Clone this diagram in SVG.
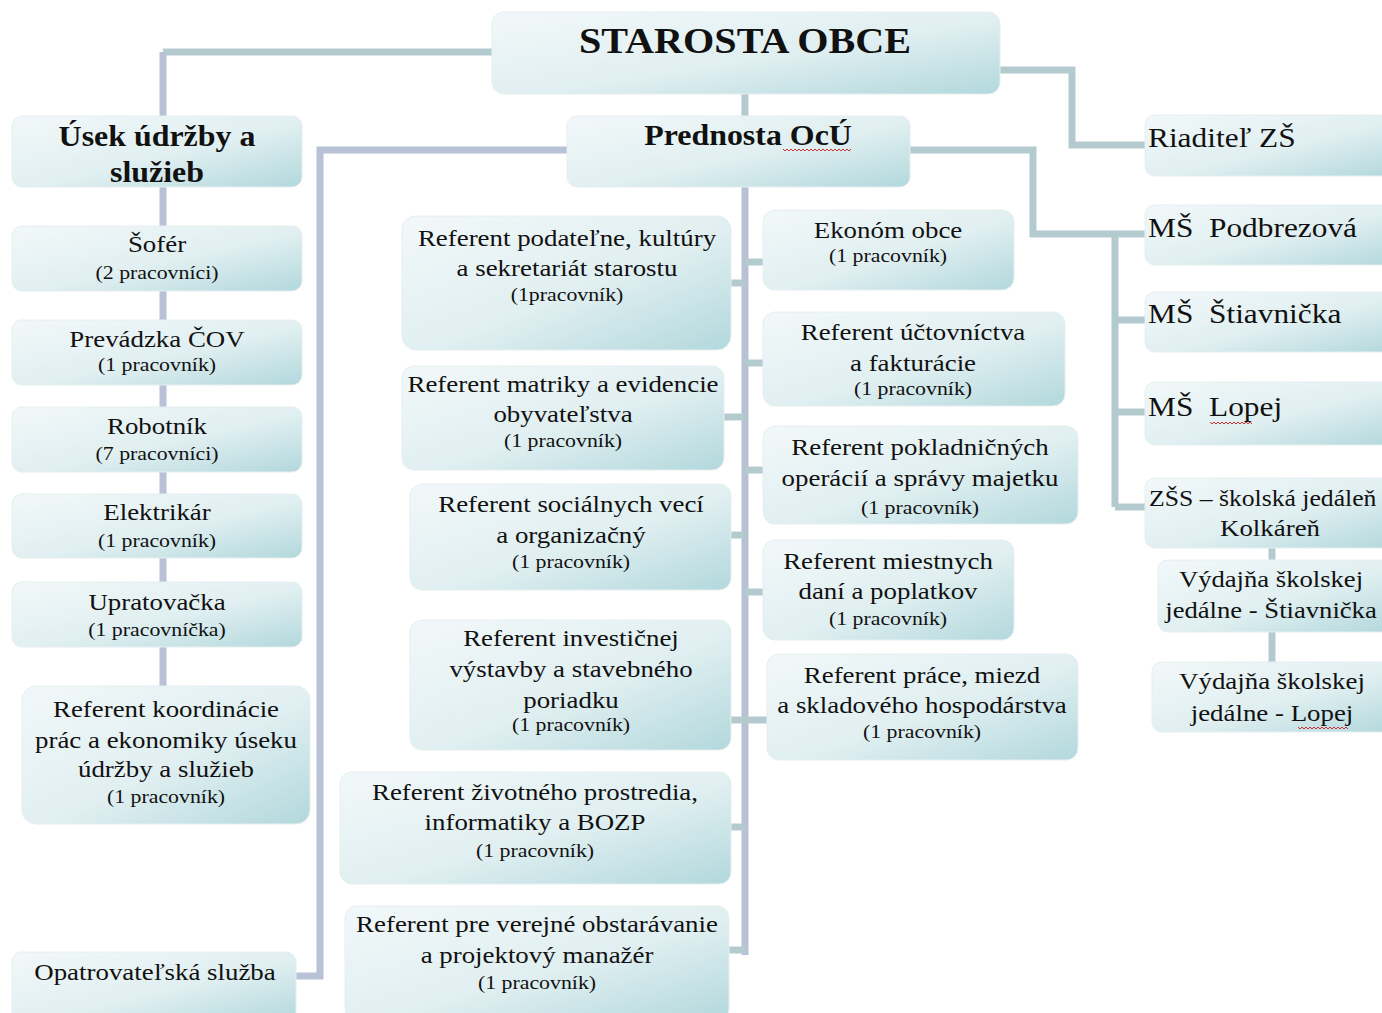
<svg xmlns="http://www.w3.org/2000/svg" width="1382" height="1013" viewBox="0 0 1382 1013">
<defs>
<linearGradient id="g" x1="0" y1="0" x2="1" y2="1">
<stop offset="0" stop-color="#f2f8f9"/>
<stop offset="0.55" stop-color="#e0eff1"/>
<stop offset="1" stop-color="#b2d8dc"/>
</linearGradient>
<style>
.box{fill:url(#g);stroke:#e6eef0;stroke-width:1}
.t{font-family:"Liberation Serif","Times New Roman",serif;fill:#111;text-anchor:middle}
.b{font-weight:bold}
.xl{font-size:36.5px}
.lg{font-size:28.5px}
.rl{font-size:28px}
.md{font-size:24px}
.sm{font-size:19.5px}
.l{text-anchor:start}
.cb{fill:none;stroke:#b9c1d6;stroke-width:7}
.ct{fill:none;stroke:#b3cbcf;stroke-width:7}
.sq{fill:none;stroke:#d03030;stroke-width:1}
</style>
</defs>
<rect width="1382" height="1013" fill="#ffffff"/>
<g id="connectors">
<path class="ct" d="M163 52 H492"/>
<path class="cb" d="M163 52 V690"/>
<path class="ct" d="M745 92 V118"/>
<path class="ct" d="M1000 70 H1072 V145 H1148"/>
<path class="ct" d="M908 150 H1033 V234 H1148"/>
<path class="ct" d="M1115 234 V507"/>
<path class="ct" d="M1115 320 H1148 M1115 412 H1148 M1115 507 H1148"/>
<path class="ct" d="M1272 546 V562 M1272 630 V664"/>
<path class="cb" d="M569 150 H320 V976 H296"/>
<path class="cb" d="M745 186 V955"/>
<path class="ct" d="M729 283 H745 M722 417 H745 M729 535 H745 M729 720 H745 M729 827 H745 M729 950 H745"/>
<path class="ct" d="M745 262 H765 M745 363 H765 M745 470 H765 M745 592 H765 M745 720 H769"/>
</g>
<g id="starosta"><rect class="box" x="492" y="12" width="508" height="82" rx="12"/><g transform="translate(745 0) scale(1.1 1)"><text class="t b xl" x="0" y="53">STAROSTA OBCE</text></g></g>
<g id="prednosta"><rect class="box" x="567" y="116" width="343" height="71" rx="10"/><g transform="translate(748 0) scale(1.12 1)"><text class="t b lg" x="0" y="145">Prednosta OcÚ</text></g><path class="sq" d="M783 149 l2 2 l2 -2 l2 2 l2 -2 l2 2 l2 -2 l2 2 l2 -2 l2 2 l2 -2 l2 2 l2 -2 l2 2 l2 -2 l2 2 l2 -2 l2 2 l2 -2 l2 2 l2 -2 l2 2 l2 -2 l2 2 l2 -2 l2 2 l2 -2 l2 2 l2 -2 l2 2 l2 -2 l2 2 l2 -2 l2 2 l2 -2"/></g>
<g id="usek"><rect class="box" x="12" y="116" width="290" height="71" rx="10"/><g transform="translate(157 0) scale(1.12 1)"><text class="t b lg" x="0" y="146">Úsek údržby a</text><text class="t b lg" x="0" y="182">služieb</text></g></g>
<g id="sofer"><rect class="box" x="12" y="226" width="290" height="65" rx="10"/><g transform="translate(157 0) scale(1.12 1)"><text class="t md" x="0" y="252">Šofér</text><text class="t sm" x="0" y="279">(2 pracovníci)</text></g></g>
<g id="cov"><rect class="box" x="12" y="320" width="290" height="65" rx="10"/><g transform="translate(157 0) scale(1.12 1)"><text class="t md" x="0" y="347">Prevádzka ČOV</text><text class="t sm" x="0" y="371">(1 pracovník)</text></g></g>
<g id="robotnik"><rect class="box" x="12" y="407" width="290" height="65" rx="10"/><g transform="translate(157 0) scale(1.12 1)"><text class="t md" x="0" y="434">Robotník</text><text class="t sm" x="0" y="460">(7 pracovníci)</text></g></g>
<g id="elektrikar"><rect class="box" x="12" y="494" width="290" height="64" rx="10"/><g transform="translate(157 0) scale(1.12 1)"><text class="t md" x="0" y="520">Elektrikár</text><text class="t sm" x="0" y="547">(1 pracovník)</text></g></g>
<g id="upratovacka"><rect class="box" x="12" y="582" width="290" height="65" rx="10"/><g transform="translate(157 0) scale(1.12 1)"><text class="t md" x="0" y="610">Upratovačka</text><text class="t sm" x="0" y="636">(1 pracovníčka)</text></g></g>
<g id="koordinacia"><rect class="box" x="22" y="686" width="288" height="138" rx="14"/><g transform="translate(166 0) scale(1.12 1)"><text class="t md" x="0" y="717">Referent koordinácie</text><text class="t md" x="0" y="748">prác a ekonomiky úseku</text><text class="t md" x="0" y="777">údržby a služieb</text><text class="t sm" x="0" y="803">(1 pracovník)</text></g></g>
<g id="opatrovatelska"><rect class="box" x="12" y="952" width="284" height="70" rx="10"/><g transform="translate(155 0) scale(1.12 1)"><text class="t md" x="0" y="980">Opatrovateľská služba</text></g></g>
<g id="podatelna"><rect class="box" x="402" y="216" width="329" height="134" rx="14"/><g transform="translate(567 0) scale(1.12 1)"><text class="t md" x="0" y="246">Referent podateľne, kultúry</text><text class="t md" x="0" y="276">a sekretariát starostu</text><text class="t sm" x="0" y="301">(1pracovník)</text></g></g>
<g id="matrika"><rect class="box" x="402" y="366" width="322" height="104" rx="12"/><g transform="translate(563 0) scale(1.12 1)"><text class="t md" x="0" y="392">Referent matriky a evidencie</text><text class="t md" x="0" y="422">obyvateľstva</text><text class="t sm" x="0" y="447">(1 pracovník)</text></g></g>
<g id="socialne"><rect class="box" x="410" y="484" width="321" height="106" rx="12"/><g transform="translate(571 0) scale(1.12 1)"><text class="t md" x="0" y="512">Referent sociálnych vecí</text><text class="t md" x="0" y="543">a organizačný</text><text class="t sm" x="0" y="568">(1 pracovník)</text></g></g>
<g id="investicie"><rect class="box" x="410" y="620" width="321" height="130" rx="12"/><g transform="translate(571 0) scale(1.12 1)"><text class="t md" x="0" y="646">Referent investičnej</text><text class="t md" x="0" y="677">výstavby a stavebného</text><text class="t md" x="0" y="708">poriadku</text><text class="t sm" x="0" y="731">(1 pracovník)</text></g></g>
<g id="zivotne"><rect class="box" x="340" y="772" width="391" height="112" rx="12"/><g transform="translate(535 0) scale(1.12 1)"><text class="t md" x="0" y="800">Referent životného prostredia,</text><text class="t md" x="0" y="830">informatiky a BOZP</text><text class="t sm" x="0" y="857">(1 pracovník)</text></g></g>
<g id="obstaravanie"><rect class="box" x="345" y="906" width="384" height="115" rx="12"/><g transform="translate(537 0) scale(1.12 1)"><text class="t md" x="0" y="932">Referent pre verejné obstarávanie</text><text class="t md" x="0" y="963">a projektový manažér</text><text class="t sm" x="0" y="989">(1 pracovník)</text></g></g>
<g id="ekonom"><rect class="box" x="763" y="210" width="251" height="80" rx="12"/><g transform="translate(888 0) scale(1.12 1)"><text class="t md" x="0" y="238">Ekonóm obce</text><text class="t sm" x="0" y="262">(1 pracovník)</text></g></g>
<g id="uctovnictvo"><rect class="box" x="763" y="312" width="302" height="94" rx="12"/><g transform="translate(913 0) scale(1.12 1)"><text class="t md" x="0" y="340">Referent účtovníctva</text><text class="t md" x="0" y="371">a fakturácie</text><text class="t sm" x="0" y="395">(1 pracovník)</text></g></g>
<g id="pokladna"><rect class="box" x="763" y="426" width="315" height="98" rx="12"/><g transform="translate(920 0) scale(1.12 1)"><text class="t md" x="0" y="455">Referent pokladničných</text><text class="t md" x="0" y="486">operácií a správy majetku</text><text class="t sm" x="0" y="514">(1 pracovník)</text></g></g>
<g id="dane"><rect class="box" x="763" y="540" width="251" height="100" rx="12"/><g transform="translate(888 0) scale(1.12 1)"><text class="t md" x="0" y="569">Referent miestnych</text><text class="t md" x="0" y="599">daní a poplatkov</text><text class="t sm" x="0" y="625">(1 pracovník)</text></g></g>
<g id="mzdy"><rect class="box" x="767" y="654" width="311" height="106" rx="12"/><g transform="translate(922 0) scale(1.12 1)"><text class="t md" x="0" y="683">Referent práce, miezd</text><text class="t md" x="0" y="713">a skladového hospodárstva</text><text class="t sm" x="0" y="738">(1 pracovník)</text></g></g>
<g id="riaditel"><rect class="box" x="1145" y="115" width="250" height="61" rx="10"/><g transform="translate(1148 0) scale(1.12 1)"><text class="t rl l" x="0" y="147">Riaditeľ ZŠ</text></g></g>
<g id="ms-podbrezova"><rect class="box" x="1145" y="205" width="250" height="60" rx="10"/><g transform="translate(1148 0) scale(1.12 1)"><text class="t rl l" x="0" y="237">MŠ&#160; Podbrezová</text></g></g>
<g id="ms-stiavnicka"><rect class="box" x="1145" y="292" width="250" height="60" rx="10"/><g transform="translate(1148 0) scale(1.12 1)"><text class="t rl l" x="0" y="323">MŠ&#160; Štiavnička</text></g></g>
<g id="ms-lopej"><rect class="box" x="1145" y="382" width="250" height="63" rx="10"/><g transform="translate(1148 0) scale(1.12 1)"><text class="t rl l" x="0" y="416">MŠ&#160; Lopej</text></g><path class="sq" d="M1210 422 l2 2 l2 -2 l2 2 l2 -2 l2 2 l2 -2 l2 2 l2 -2 l2 2 l2 -2 l2 2 l2 -2 l2 2 l2 -2 l2 2 l2 -2 l2 2 l2 -2 l2 2 l2 -2 l2 2"/></g>
<g id="zss"><rect class="box" x="1145" y="478" width="250" height="70" rx="10"/><g transform="translate(1149 0) scale(1.07 1)"><text class="t md l" x="0" y="506">ZŠS – školská jedáleň</text></g><g transform="translate(1270 0) scale(1.12 1)"><text class="t md" x="0" y="536">Kolkáreň</text></g></g>
<g id="vydajna-stiavnicka"><rect class="box" x="1158" y="560" width="237" height="72" rx="10"/><g transform="translate(1271 0) scale(1.11 1)"><text class="t md" x="0" y="587">Výdajňa školskej</text><text class="t md" x="0" y="618">jedálne - Štiavnička</text></g></g>
<g id="vydajna-lopej"><rect class="box" x="1152" y="662" width="243" height="70" rx="10"/><g transform="translate(1272 0) scale(1.12 1)"><text class="t md" x="0" y="689">Výdajňa školskej</text><text class="t md" x="0" y="721">jedálne - Lopej</text></g><path class="sq" d="M1298 727 l2 2 l2 -2 l2 2 l2 -2 l2 2 l2 -2 l2 2 l2 -2 l2 2 l2 -2 l2 2 l2 -2 l2 2 l2 -2 l2 2 l2 -2 l2 2 l2 -2 l2 2 l2 -2 l2 2 l2 -2 l2 2 l2 -2 l2 2"/></g>
</svg>
